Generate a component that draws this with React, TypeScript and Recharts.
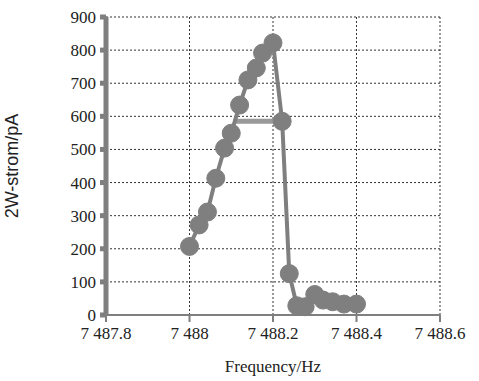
import React from 'react';
import { LineChart, Line, XAxis, YAxis, CartesianGrid, Label, Text } from 'recharts';

// sweep order
const freqs = [
  7488.0, 7488.023, 7488.043, 7488.063, 7488.084, 7488.1, 7488.12, 7488.14, 7488.16, 7488.175, 7488.2,
  7488.222, 7488.239, 7488.257, 7488.277, 7488.3, 7488.32, 7488.343, 7488.37, 7488.4,
];
const currents = [
  207, 272, 311, 413, 504, 549, 634, 710, 746, 791, 822,
  585, 125, 28, 25, 62, 45, 40, 33, 33,
];
// the flat segment at ~585 pA
const stepFreqs = [7488.105, 7488.222];
const stepCurrents = [585, 585];

const xTicks = [7487.8, 7488, 7488.2, 7488.4, 7488.6];
const yTicks = [0, 100, 200, 300, 400, 500, 600, 700, 800, 900];

const data = freqs.map((f, i) => ({ f, v: currents[i] }));
const stepData = stepFreqs.map((f, i) => ({ f, v: stepCurrents[i] }));

const fmtX = (v: number) => {
  const s = String(+v.toFixed(1));
  return s.slice(0, 1) + ' ' + s.slice(1);
};

const serif = '"Liberation Serif", serif';
const sans = '"Liberation Sans", sans-serif';
const GRAY = '#7f7f7f';

const XTick = (props: any) => {
  const { x, y, payload } = props;
  return (
    <Text x={x} y={y + 15} textAnchor="middle" fill="#222" style={{ fontSize: 17, fontFamily: serif }}>
      {fmtX(payload.value)}
    </Text>
  );
};

const YTick = (props: any) => {
  const { x, y, payload } = props;
  return (
    <Text x={x - 2} y={y + 6} textAnchor="end" fill="#222" style={{ fontSize: 17, fontFamily: serif }}>
      {String(payload.value)}
    </Text>
  );
};

export default function App() {
  return (
    <div style={{ position: 'absolute', left: 0, top: 0, background: '#fff', fontFamily: serif }}>
      <LineChart width={479} height={381} margin={{ top: 17, right: 39, bottom: 0, left: 0 }}>
        <CartesianGrid stroke="#333" strokeDasharray="2 2" strokeWidth={1} />
        <XAxis
          type="number"
          dataKey="f"
          domain={[7487.8, 7488.6]}
          ticks={xTicks}
          height={66}
          stroke={GRAY}
          strokeWidth={2}
          tickSize={7}
          tick={XTick}
          allowDataOverflow
        >
          <Label value="Frequency/Hz" position="insideBottom" offset={9} fill="#222" style={{ fontSize: 17, fontFamily: serif }} />
        </XAxis>
        <YAxis
          type="number"
          dataKey="v"
          domain={[0, 900]}
          ticks={yTicks}
          width={106}
          stroke={GRAY}
          strokeWidth={5}
          tickSize={6}
          tick={YTick}
        >
          <Label
            value="2W-strom/pA"
            angle={-90}
            position="insideLeft"
            offset={12}
            fill="#222"
            style={{ textAnchor: 'middle', fontFamily: sans, fontSize: 18 }}
          />
        </YAxis>
        <Line
          data={stepData}
          dataKey="v"
          stroke="#999"
          strokeWidth={5}
          dot={false}
          isAnimationActive={false}
        />
        <Line
          data={data}
          dataKey="v"
          stroke={GRAY}
          strokeWidth={4}
          dot={{ r: 9, fill: GRAY, stroke: GRAY, strokeWidth: 1 }}
          isAnimationActive={false}
        />
      </LineChart>
    </div>
  );
}
